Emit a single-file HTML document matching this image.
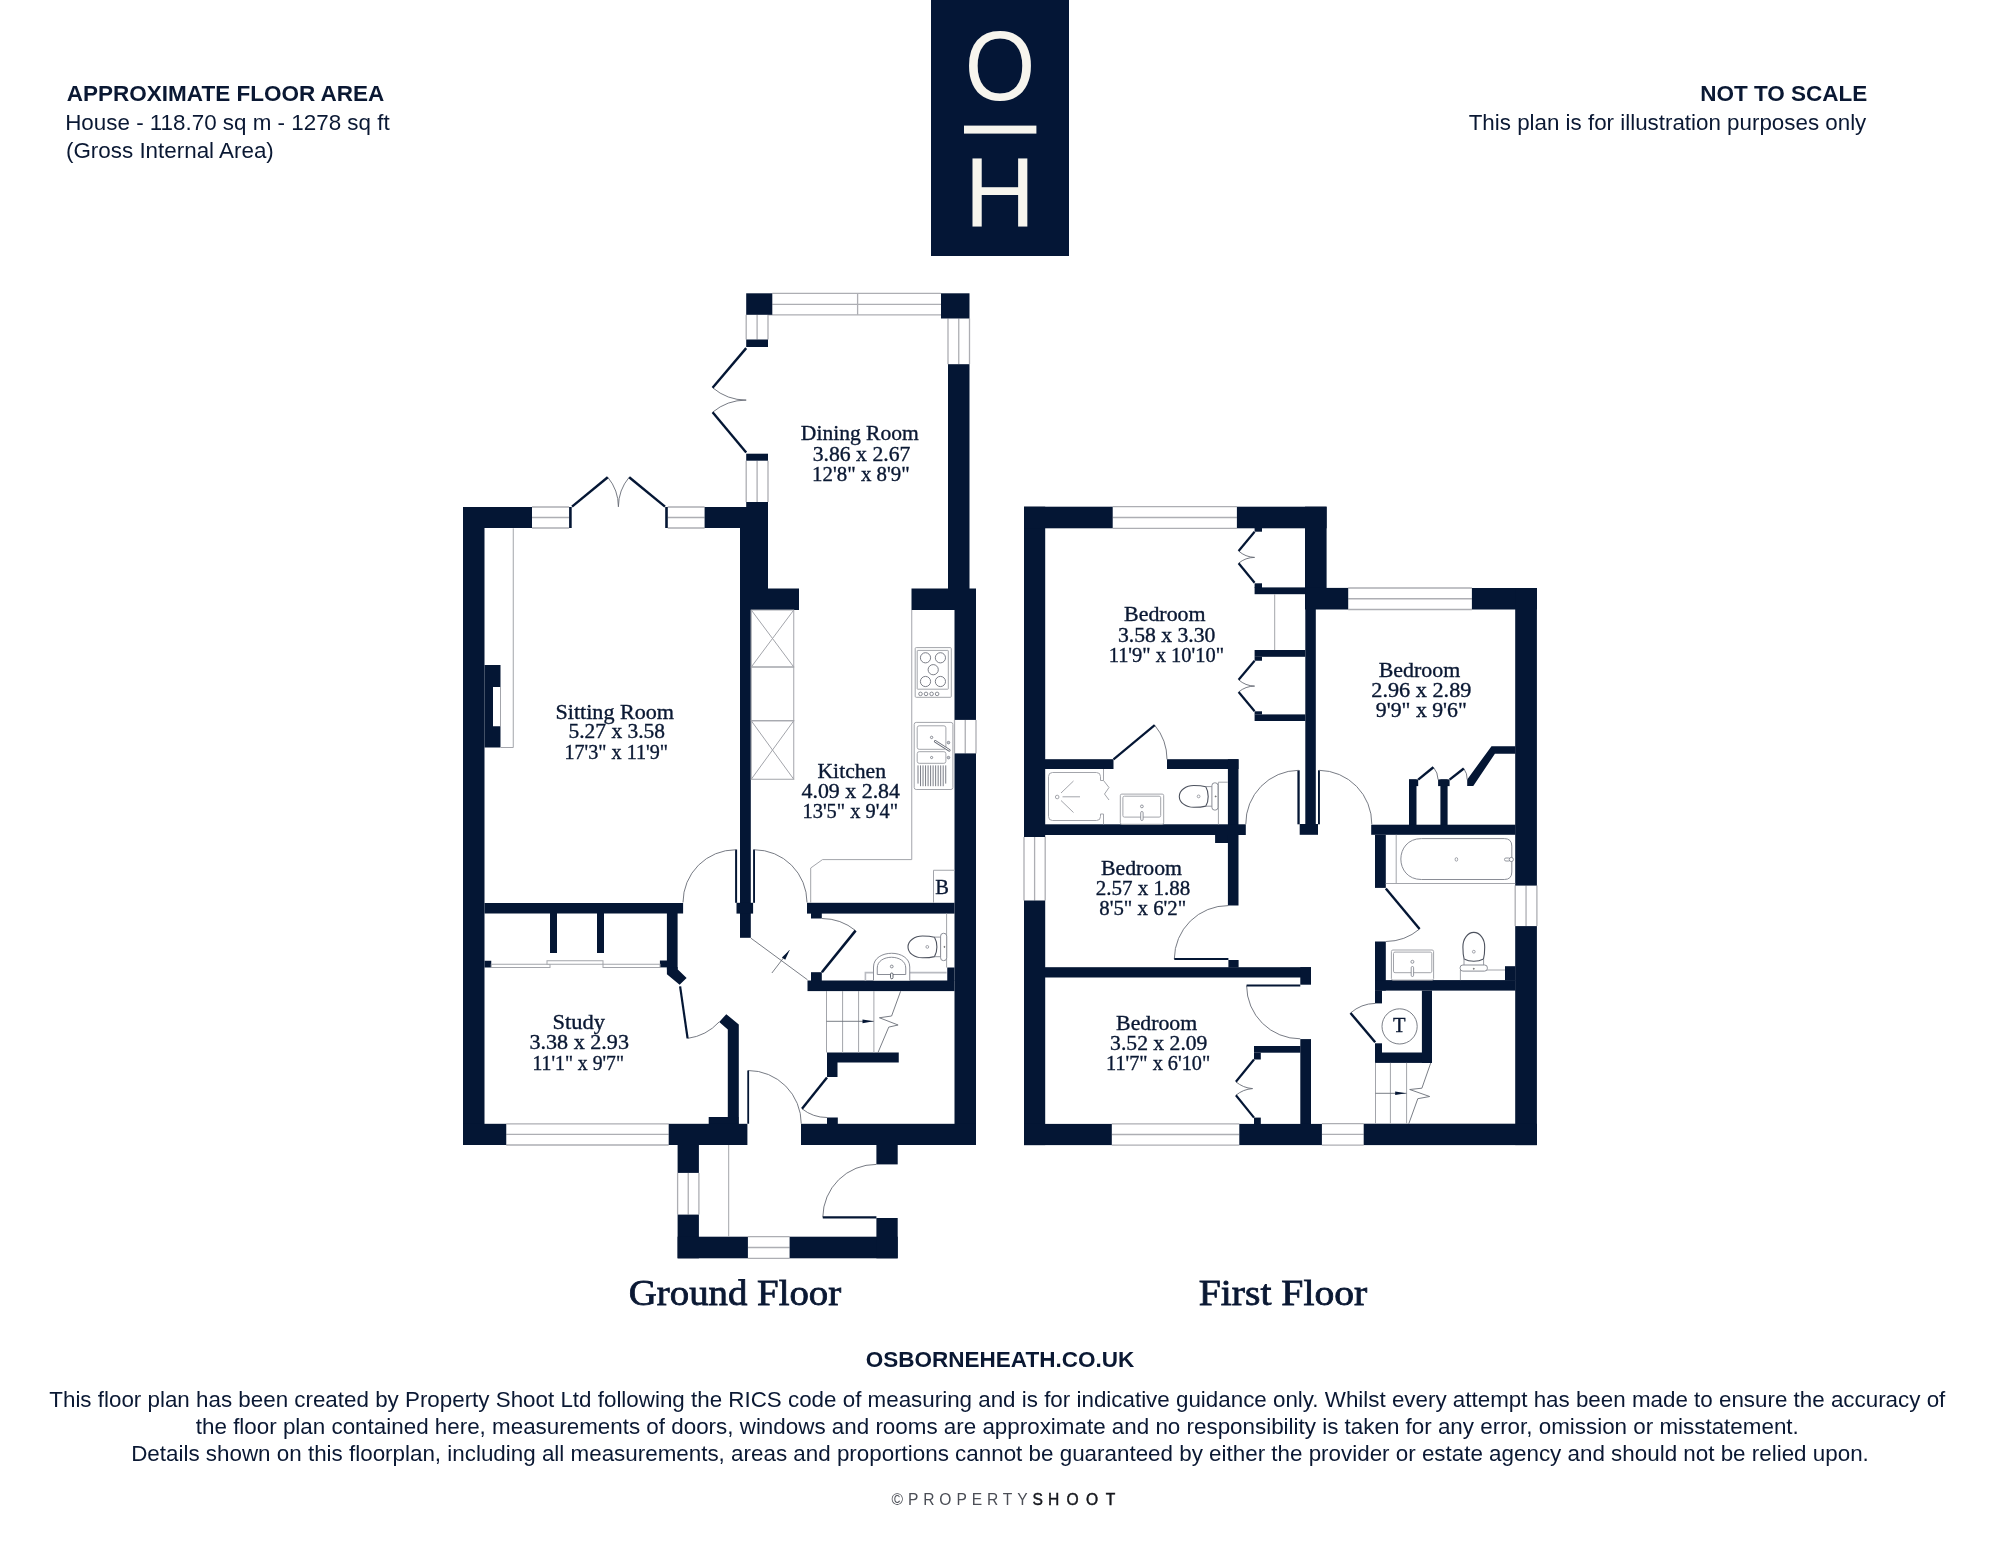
<!DOCTYPE html>
<html lang="en"><head><meta charset="utf-8"><title>Floor plan</title>
<style>
html,body{margin:0;padding:0;background:#fff;}
body{width:2000px;height:1545px;overflow:hidden;}
svg{display:block;will-change:transform;}
text{white-space:pre;}
</style></head><body>
<svg width="2000" height="1545" viewBox="0 0 2000 1545">
<rect width="2000" height="1545" fill="#ffffff"/>
<rect x="931.00" y="0.00" width="138.00" height="256.00" fill="#041636" />
<text x="1000.00" y="100.40" font-family="'Liberation Sans', sans-serif" font-size="98" font-weight="normal" text-anchor="middle" fill="#f7f5ee" transform="translate(1000 0) scale(0.925 1) translate(-1000 0)">O</text>
<rect x="964.00" y="125.60" width="72.40" height="8.00" fill="#f7f5ee" />
<text x="1000.00" y="226.40" font-family="'Liberation Sans', sans-serif" font-size="98" font-weight="normal" text-anchor="middle" fill="#f7f5ee" >H</text>
<text x="66.80" y="101.20" font-family="'Liberation Sans', sans-serif" font-size="22.5" font-weight="bold" text-anchor="start" fill="#0a1833" >APPROXIMATE FLOOR AREA</text>
<text x="65.20" y="129.60" font-family="'Liberation Sans', sans-serif" font-size="22.4" font-weight="normal" text-anchor="start" fill="#0a1833" >House - 118.70 sq m - 1278 sq ft</text>
<text x="66.00" y="158.30" font-family="'Liberation Sans', sans-serif" font-size="22.4" font-weight="normal" text-anchor="start" fill="#0a1833" >(Gross Internal Area)</text>
<text x="1867.30" y="101.20" font-family="'Liberation Sans', sans-serif" font-size="22.5" font-weight="bold" text-anchor="end" fill="#0a1833" >NOT TO SCALE</text>
<text x="1866.30" y="129.60" font-family="'Liberation Sans', sans-serif" font-size="22.4" font-weight="normal" text-anchor="end" fill="#0a1833" textLength="397.6" lengthAdjust="spacingAndGlyphs" >This plan is for illustration purposes only</text>
<text x="1000.00" y="1367.20" font-family="'Liberation Sans', sans-serif" font-size="22.5" font-weight="bold" text-anchor="middle" fill="#0a1833" >OSBORNEHEATH.CO.UK</text>
<text x="997.30" y="1406.50" font-family="'Liberation Sans', sans-serif" font-size="22.4" font-weight="normal" text-anchor="middle" fill="#0a1833" textLength="1896.0" lengthAdjust="spacingAndGlyphs" >This floor plan has been created by Property Shoot Ltd following the RICS code of measuring and is for indicative guidance only. Whilst every attempt has been made to ensure the accuracy of</text>
<text x="997.30" y="1433.50" font-family="'Liberation Sans', sans-serif" font-size="22.4" font-weight="normal" text-anchor="middle" fill="#0a1833" >the floor plan contained here, measurements of doors, windows and rooms are approximate and no responsibility is taken for any error, omission or misstatement.</text>
<text x="1000.00" y="1460.50" font-family="'Liberation Sans', sans-serif" font-size="22.4" font-weight="normal" text-anchor="middle" fill="#0a1833" >Details shown on this floorplan, including all measurements, areas and proportions cannot be guaranteed by either the provider or estate agency and should not be relied upon.</text>
<text x="891.5" y="1505" font-family="'Liberation Sans', sans-serif" font-size="15.6" letter-spacing="4.9" fill="#4a4d55"><tspan>©PROPERTY</tspan><tspan fill="#15171c" stroke="#15171c" stroke-width="0.45">S<tspan letter-spacing="7.4">HOO</tspan>T</tspan></text>
<rect x="772.30" y="293.30" width="168.70" height="21.50" fill="#fff" />
<line x1="772.30" y1="293.30" x2="941.00" y2="293.30" stroke="#adaeb3" stroke-width="1.3" />
<line x1="772.30" y1="304.30" x2="941.00" y2="304.30" stroke="#adaeb3" stroke-width="1.3" />
<line x1="768.00" y1="314.80" x2="948.00" y2="314.80" stroke="#adaeb3" stroke-width="1.3" />
<line x1="857.60" y1="293.30" x2="857.60" y2="314.80" stroke="#adaeb3" stroke-width="1.3" />
<rect x="746.20" y="314.80" width="21.80" height="24.70" fill="#fff" />
<line x1="746.20" y1="314.80" x2="746.20" y2="339.50" stroke="#adaeb3" stroke-width="1.3" />
<line x1="757.10" y1="314.80" x2="757.10" y2="339.50" stroke="#adaeb3" stroke-width="1.3" />
<line x1="768.00" y1="314.80" x2="768.00" y2="339.50" stroke="#adaeb3" stroke-width="1.3" />
<rect x="746.20" y="460.70" width="21.80" height="41.30" fill="#fff" />
<line x1="746.20" y1="460.70" x2="746.20" y2="502.00" stroke="#adaeb3" stroke-width="1.3" />
<line x1="757.10" y1="460.70" x2="757.10" y2="502.00" stroke="#adaeb3" stroke-width="1.3" />
<line x1="768.00" y1="460.70" x2="768.00" y2="502.00" stroke="#adaeb3" stroke-width="1.3" />
<rect x="948.00" y="318.50" width="21.50" height="45.70" fill="#fff" />
<line x1="948.00" y1="318.50" x2="948.00" y2="364.20" stroke="#adaeb3" stroke-width="1.3" />
<line x1="958.75" y1="318.50" x2="958.75" y2="364.20" stroke="#adaeb3" stroke-width="1.3" />
<line x1="969.50" y1="318.50" x2="969.50" y2="364.20" stroke="#adaeb3" stroke-width="1.3" />
<rect x="532.00" y="507.00" width="37.10" height="21.00" fill="#fff" />
<line x1="532.00" y1="507.00" x2="569.10" y2="507.00" stroke="#adaeb3" stroke-width="1.3" />
<line x1="532.00" y1="517.50" x2="569.10" y2="517.50" stroke="#adaeb3" stroke-width="1.3" />
<line x1="532.00" y1="528.00" x2="569.10" y2="528.00" stroke="#adaeb3" stroke-width="1.3" />
<rect x="667.80" y="507.00" width="36.80" height="21.00" fill="#fff" />
<line x1="667.80" y1="507.00" x2="704.60" y2="507.00" stroke="#adaeb3" stroke-width="1.3" />
<line x1="667.80" y1="517.50" x2="704.60" y2="517.50" stroke="#adaeb3" stroke-width="1.3" />
<line x1="667.80" y1="528.00" x2="704.60" y2="528.00" stroke="#adaeb3" stroke-width="1.3" />
<rect x="506.25" y="1123.80" width="162.45" height="21.20" fill="#fff" />
<line x1="506.25" y1="1123.80" x2="668.70" y2="1123.80" stroke="#adaeb3" stroke-width="1.3" />
<line x1="506.25" y1="1134.40" x2="668.70" y2="1134.40" stroke="#adaeb3" stroke-width="1.3" />
<line x1="506.25" y1="1145.00" x2="668.70" y2="1145.00" stroke="#adaeb3" stroke-width="1.3" />
<rect x="954.50" y="719.90" width="21.50" height="33.50" fill="#fff" />
<line x1="954.50" y1="719.90" x2="954.50" y2="753.40" stroke="#adaeb3" stroke-width="1.3" />
<line x1="965.25" y1="719.90" x2="965.25" y2="753.40" stroke="#adaeb3" stroke-width="1.3" />
<line x1="976.00" y1="719.90" x2="976.00" y2="753.40" stroke="#adaeb3" stroke-width="1.3" />
<rect x="677.60" y="1172.90" width="21.30" height="41.70" fill="#fff" />
<line x1="677.60" y1="1172.90" x2="677.60" y2="1214.60" stroke="#adaeb3" stroke-width="1.3" />
<line x1="688.25" y1="1172.90" x2="688.25" y2="1214.60" stroke="#adaeb3" stroke-width="1.3" />
<line x1="698.90" y1="1172.90" x2="698.90" y2="1214.60" stroke="#adaeb3" stroke-width="1.3" />
<rect x="747.90" y="1236.70" width="41.70" height="21.60" fill="#fff" />
<line x1="747.90" y1="1236.70" x2="789.60" y2="1236.70" stroke="#adaeb3" stroke-width="1.3" />
<line x1="747.90" y1="1247.50" x2="789.60" y2="1247.50" stroke="#adaeb3" stroke-width="1.3" />
<line x1="747.90" y1="1258.30" x2="789.60" y2="1258.30" stroke="#adaeb3" stroke-width="1.3" />
<rect x="746.20" y="293.30" width="26.10" height="21.50" fill="#041634" />
<rect x="746.20" y="339.50" width="21.80" height="7.50" fill="#041634" />
<rect x="746.20" y="453.70" width="21.80" height="7.00" fill="#041634" />
<rect x="746.20" y="502.00" width="21.80" height="26.30" fill="#041634" />
<rect x="704.60" y="507.00" width="63.40" height="21.00" fill="#041634" />
<rect x="740.00" y="528.00" width="28.00" height="82.00" fill="#041634" />
<rect x="740.00" y="588.50" width="59.00" height="21.50" fill="#041634" />
<rect x="740.00" y="610.00" width="10.80" height="327.80" fill="#041634" />
<rect x="941.00" y="293.30" width="28.50" height="25.20" fill="#041634" />
<rect x="948.00" y="364.20" width="21.50" height="224.80" fill="#041634" />
<rect x="911.50" y="588.50" width="64.50" height="21.50" fill="#041634" />
<rect x="954.50" y="610.00" width="21.50" height="109.90" fill="#041634" />
<rect x="954.50" y="753.40" width="21.50" height="391.60" fill="#041634" />
<rect x="463.00" y="507.00" width="21.50" height="638.00" fill="#041634" />
<rect x="463.00" y="507.00" width="69.00" height="21.00" fill="#041634" />
<rect x="569.10" y="507.00" width="2.60" height="21.00" fill="#041634" />
<rect x="665.20" y="507.00" width="2.60" height="21.00" fill="#041634" />
<rect x="484.50" y="665.00" width="16.00" height="82.50" fill="#041634" />
<rect x="493.00" y="687.00" width="7.50" height="39.25" fill="#fff" />
<line x1="500.50" y1="687.00" x2="500.50" y2="726.25" stroke="#a3a5ab" stroke-width="1" />
<polyline points="513.25,528.30 513.25,747.50 500.50,747.50" fill="none" stroke="#a3a5ab" stroke-width="1" />
<rect x="484.50" y="903.00" width="198.60" height="10.50" fill="#041634" />
<rect x="550.00" y="913.00" width="7.00" height="40.00" fill="#041634" />
<rect x="597.00" y="913.00" width="7.00" height="40.00" fill="#041634" />
<rect x="666.90" y="913.00" width="10.70" height="56.50" fill="#041634" />
<rect x="659.90" y="960.50" width="7.10" height="6.90" fill="#041634" />
<polygon points="666.90,967.40 666.90,974.30 679.60,984.80 686.60,978.10 677.60,969.20 677.60,967.00" fill="#041634" stroke="none" stroke-width="0"/>
<rect x="484.50" y="960.75" width="6.75" height="6.75" fill="#041634" />
<rect x="491.25" y="964.25" width="58.75" height="3.25" fill="#fff" stroke="#a3a5ab" stroke-width="1"/>
<rect x="547.00" y="960.75" width="56.00" height="3.50" fill="#fff" stroke="#a3a5ab" stroke-width="1"/>
<rect x="603.00" y="964.25" width="57.00" height="3.25" fill="#fff" stroke="#a3a5ab" stroke-width="1"/>
<rect x="736.50" y="902.80" width="16.60" height="10.80" fill="#041634" />
<rect x="735.10" y="849.50" width="2.00" height="53.30" fill="#041634" />
<rect x="753.10" y="849.50" width="1.90" height="53.30" fill="#041634" />
<polygon points="719.20,1021.90 726.30,1014.20 738.80,1024.40 738.80,1124.00 727.80,1124.00 727.80,1029.40" fill="#041634" stroke="none" stroke-width="0"/>
<rect x="708.70" y="1117.00" width="29.80" height="7.00" fill="#041634" />
<rect x="463.00" y="1123.80" width="43.25" height="21.20" fill="#041634" />
<rect x="668.70" y="1123.80" width="78.70" height="21.20" fill="#041634" />
<rect x="801.00" y="1123.80" width="175.00" height="21.20" fill="#041634" />
<rect x="827.00" y="1117.50" width="10.80" height="6.50" fill="#041634" />
<rect x="807.00" y="902.80" width="147.50" height="10.80" fill="#041634" />
<rect x="811.00" y="913.00" width="10.80" height="5.50" fill="#041634" />
<rect x="811.00" y="972.20" width="10.80" height="8.80" fill="#041634" />
<rect x="807.50" y="980.50" width="147.00" height="10.60" fill="#041634" />
<rect x="947.25" y="967.50" width="7.25" height="13.50" fill="#041634" />
<rect x="827.00" y="1052.50" width="71.75" height="10.00" fill="#041634" />
<rect x="827.00" y="1062.00" width="10.50" height="15.00" fill="#041634" />
<rect x="677.60" y="1145.00" width="21.30" height="27.90" fill="#041634" />
<rect x="677.60" y="1214.60" width="21.30" height="43.70" fill="#041634" />
<rect x="677.60" y="1236.70" width="70.30" height="21.60" fill="#041634" />
<rect x="789.60" y="1236.70" width="108.10" height="21.60" fill="#041634" />
<rect x="876.40" y="1218.00" width="21.30" height="40.30" fill="#041634" />
<rect x="876.40" y="1145.00" width="21.30" height="19.40" fill="#041634" />
<line x1="728.70" y1="1145.00" x2="728.70" y2="1236.70" stroke="#a3a5ab" stroke-width="1" />
<path d="M712.60,387.70 A51.97,51.97 0 0 0 746.20,400.10" fill="none" stroke="#686c76" stroke-width="0.9"/>
<line x1="746.20" y1="348.10" x2="712.60" y2="387.70" stroke="#041634" stroke-width="2.4" stroke-linecap="butt"/>
<path d="M712.60,412.20 A52.43,52.43 0 0 1 746.20,400.10" fill="none" stroke="#686c76" stroke-width="0.9"/>
<line x1="746.20" y1="452.50" x2="712.60" y2="412.20" stroke="#041634" stroke-width="2.4" stroke-linecap="butt"/>
<path d="M607.75,477.20 A46.34,46.34 0 0 1 618.40,506.80" fill="none" stroke="#686c76" stroke-width="0.9"/>
<line x1="572.00" y1="506.60" x2="607.75" y2="477.20" stroke="#041634" stroke-width="2.4" stroke-linecap="butt"/>
<path d="M629.20,477.20 A46.46,46.46 0 0 0 618.40,506.80" fill="none" stroke="#686c76" stroke-width="0.9"/>
<line x1="665.00" y1="506.60" x2="629.20" y2="477.20" stroke="#041634" stroke-width="2.4" stroke-linecap="butt"/>
<path d="M735.75,849.75 A52.75,52.75 0 0 0 683.00,902.50" fill="none" stroke="#686c76" stroke-width="0.9"/>
<path d="M754.25,849.75 A52.75,52.75 0 0 1 807.00,902.50" fill="none" stroke="#686c76" stroke-width="0.9"/>
<path d="M855.60,930.60 A53.66,53.66 0 0 0 821.90,918.50" fill="none" stroke="#686c76" stroke-width="0.9"/>
<line x1="821.90" y1="972.25" x2="855.60" y2="930.60" stroke="#041634" stroke-width="2.6" stroke-linecap="butt"/>
<path d="M687.60,1038.40 A52.76,52.76 0 0 0 719.20,1021.90" fill="none" stroke="#686c76" stroke-width="0.9"/>
<line x1="680.10" y1="986.30" x2="687.60" y2="1038.40" stroke="#041634" stroke-width="2.2" stroke-linecap="butt"/>
<path d="M748.20,1070.50 A53.15,53.15 0 0 1 801.25,1123.75" fill="none" stroke="#686c76" stroke-width="0.9"/>
<line x1="748.20" y1="1123.75" x2="748.20" y2="1070.50" stroke="#041634" stroke-width="1.8" stroke-linecap="butt"/>
<path d="M802.00,1108.75 A40.01,40.01 0 0 0 827.00,1117.50" fill="none" stroke="#686c76" stroke-width="0.9"/>
<line x1="827.00" y1="1077.50" x2="802.00" y2="1108.75" stroke="#041634" stroke-width="2.4" stroke-linecap="butt"/>
<path d="M822.80,1217.30 A53.25,53.25 0 0 1 876.40,1164.40" fill="none" stroke="#686c76" stroke-width="0.9"/>
<line x1="876.40" y1="1217.30" x2="822.80" y2="1217.30" stroke="#041634" stroke-width="2.2" stroke-linecap="butt"/>
<polyline points="911.75,610.00 911.75,859.60 822.50,859.60 810.70,868.00 810.70,902.80" fill="none" stroke="#a3a5ab" stroke-width="1" />
<rect x="751.25" y="610.00" width="42.50" height="57.00" fill="none" stroke="#a3a5ab" stroke-width="1"/>
<line x1="751.25" y1="610.00" x2="793.75" y2="667.00" stroke="#a3a5ab" stroke-width="1" />
<line x1="793.75" y1="610.00" x2="751.25" y2="667.00" stroke="#a3a5ab" stroke-width="1" />
<rect x="751.25" y="667.00" width="42.50" height="53.75" fill="none" stroke="#a3a5ab" stroke-width="1"/>
<rect x="751.25" y="720.75" width="42.50" height="58.50" fill="none" stroke="#a3a5ab" stroke-width="1"/>
<line x1="751.25" y1="720.75" x2="793.75" y2="779.25" stroke="#a3a5ab" stroke-width="1" />
<line x1="793.75" y1="720.75" x2="751.25" y2="779.25" stroke="#a3a5ab" stroke-width="1" />
<rect x="915.20" y="647.60" width="36.10" height="49.70" rx="1" fill="none" stroke="#a3a5ab" stroke-width="1"/>
<rect x="917.20" y="650.40" width="31.10" height="38.80" rx="0.5" fill="none" stroke="#a3a5ab" stroke-width="1"/>
<circle cx="925.50" cy="657.80" r="5.10" fill="none" stroke="#6d717b" stroke-width="0.9"/>
<circle cx="940.40" cy="657.80" r="5.10" fill="none" stroke="#6d717b" stroke-width="0.9"/>
<circle cx="933.20" cy="669.70" r="5.10" fill="none" stroke="#6d717b" stroke-width="0.9"/>
<circle cx="925.50" cy="681.50" r="5.10" fill="none" stroke="#6d717b" stroke-width="0.9"/>
<circle cx="940.40" cy="681.50" r="5.10" fill="none" stroke="#6d717b" stroke-width="0.9"/>
<circle cx="920.50" cy="693.90" r="1.80" fill="none" stroke="#6d717b" stroke-width="0.8"/>
<circle cx="926.00" cy="693.90" r="1.80" fill="none" stroke="#6d717b" stroke-width="0.8"/>
<circle cx="931.60" cy="693.90" r="1.80" fill="none" stroke="#6d717b" stroke-width="0.8"/>
<circle cx="937.10" cy="693.90" r="1.80" fill="none" stroke="#6d717b" stroke-width="0.8"/>
<rect x="914.20" y="722.40" width="38.70" height="67.10" rx="2" fill="none" stroke="#a3a5ab" stroke-width="1"/>
<rect x="917.20" y="725.80" width="28.70" height="23.50" rx="2" fill="none" stroke="#a3a5ab" stroke-width="1"/>
<rect x="917.20" y="751.70" width="28.70" height="11.60" rx="2" fill="none" stroke="#a3a5ab" stroke-width="1"/>
<line x1="918.00" y1="765.40" x2="918.00" y2="783.60" stroke="#6d717b" stroke-width="0.9" />
<line x1="920.52" y1="765.40" x2="920.52" y2="786.20" stroke="#6d717b" stroke-width="0.9" />
<line x1="923.04" y1="765.40" x2="923.04" y2="786.20" stroke="#6d717b" stroke-width="0.9" />
<line x1="925.56" y1="765.40" x2="925.56" y2="786.20" stroke="#6d717b" stroke-width="0.9" />
<line x1="928.08" y1="765.40" x2="928.08" y2="786.20" stroke="#6d717b" stroke-width="0.9" />
<line x1="930.60" y1="765.40" x2="930.60" y2="786.20" stroke="#6d717b" stroke-width="0.9" />
<line x1="933.12" y1="765.40" x2="933.12" y2="786.20" stroke="#6d717b" stroke-width="0.9" />
<line x1="935.64" y1="765.40" x2="935.64" y2="786.20" stroke="#6d717b" stroke-width="0.9" />
<line x1="938.16" y1="765.40" x2="938.16" y2="786.20" stroke="#6d717b" stroke-width="0.9" />
<line x1="940.68" y1="765.40" x2="940.68" y2="786.20" stroke="#6d717b" stroke-width="0.9" />
<line x1="943.20" y1="765.40" x2="943.20" y2="786.20" stroke="#6d717b" stroke-width="0.9" />
<line x1="945.72" y1="765.40" x2="945.72" y2="783.60" stroke="#6d717b" stroke-width="0.9" />
<circle cx="931.60" cy="737.40" r="1.20" fill="none" stroke="#6d717b" stroke-width="0.8"/>
<circle cx="931.60" cy="757.50" r="1.10" fill="none" stroke="#6d717b" stroke-width="0.8"/>
<line x1="935.20" y1="741.30" x2="949.30" y2="750.30" stroke="#6d717b" stroke-width="2.6" stroke-linecap="round"/>
<line x1="935.20" y1="741.30" x2="949.30" y2="750.30" stroke="#fff" stroke-width="1.0" stroke-linecap="round"/>
<circle cx="948.50" cy="742.60" r="1.30" fill="#c8cad0" stroke="#7a7e88" stroke-width="0.8"/>
<circle cx="948.50" cy="757.60" r="1.30" fill="#c8cad0" stroke="#7a7e88" stroke-width="0.8"/>
<polyline points="954.50,870.25 933.50,870.25 933.50,902.80" fill="none" stroke="#a3a5ab" stroke-width="1" />
<text x="942.20" y="893.60" font-family="'Liberation Serif', serif" font-size="20.5" font-weight="normal" text-anchor="middle" fill="#0a1833"  stroke="#0a1833" stroke-width="0.35">B</text>
<line x1="946.60" y1="913.60" x2="946.60" y2="967.50" stroke="#a3a5ab" stroke-width="1" />
<polyline points="865.40,980.50 865.40,972.60 946.60,972.60" fill="none" stroke="#b9bbc1" stroke-width="1.6" />
<path d="M873.5,980.5 L873.5,967 C873.5,948.7 909.75,948.7 909.75,967 L909.75,980.5" fill="#fff" stroke="#8a8d96" stroke-width="1"/>
<path d="M877.25,974.5 L877.25,968 C877.25,953.7 905.75,953.7 905.75,968 L905.75,974.5 Z" fill="#fff" stroke="#8a8d96" stroke-width="1"/>
<circle cx="891.75" cy="966.50" r="1.40" fill="none" stroke="#6d717b" stroke-width="0.8"/>
<rect x="890.50" y="973.00" width="2.50" height="5.75" rx="1.2" fill="#fff" stroke="#4d525e" stroke-width="0.9"/>
<g transform="translate(908.00 946.90) rotate(0)">
<path d="M14.5,-10.9 A14.5,10.9 0 0 0 14.5,10.9 C19,10.9 23,10.6 26.5,9.7 C28.3,6.6 28.9,3.2 28.9,0 C28.9,-3.2 28.3,-6.6 26.5,-9.7 C23,-10.6 19,-10.9 14.5,-10.9 Z" fill="#fff" stroke="#4d525e" stroke-width="1.1"/>
<path d="M26.5,-9.8 L32.6,-9.8 M26.5,9.8 L32.6,9.8" fill="none" stroke="#8a8d96" stroke-width="0.9"/>
<rect x="32.60" y="-13.60" width="6.10" height="27.30" rx="2.8" fill="#fff" stroke="#8a8d96" stroke-width="1"/>
<circle cx="19.30" cy="0.00" r="1.40" fill="none" stroke="#8a8d96" stroke-width="0.8"/>
<circle cx="36.40" cy="0.00" r="0.50" fill="none" stroke="#333" stroke-width="0.7"/>
</g>
<line x1="750.80" y1="938.10" x2="807.50" y2="979.80" stroke="#6b6f78" stroke-width="0.9" />
<line x1="771.90" y1="973.00" x2="789.40" y2="950.20" stroke="#6b6f78" stroke-width="0.9" />
<polygon points="789.70,950.00 781.90,957.40 785.20,959.70" fill="#041634" stroke="none" stroke-width="0"/>
<line x1="826.50" y1="991.00" x2="826.50" y2="1052.50" stroke="#a3a5ab" stroke-width="1" />
<line x1="842.60" y1="991.00" x2="842.60" y2="1052.50" stroke="#a3a5ab" stroke-width="1" />
<line x1="858.60" y1="991.00" x2="858.60" y2="1052.50" stroke="#a3a5ab" stroke-width="1" />
<line x1="873.90" y1="991.00" x2="873.90" y2="1052.50" stroke="#a3a5ab" stroke-width="1" />
<line x1="826.50" y1="1021.30" x2="873.90" y2="1021.30" stroke="#6b6f78" stroke-width="0.9" />
<polygon points="873.50,1021.30 862.50,1019.40 862.50,1023.20" fill="#041634" stroke="none" stroke-width="0"/>
<polyline points="900.60,991.25 891.60,1016.00 879.40,1017.75 898.10,1025.00 888.75,1027.10 878.00,1052.50" fill="none" stroke="#6b6f78" stroke-width="0.9" />
<text x="800.89" y="440.20" font-family="'Liberation Serif', serif" font-size="20.5" font-weight="normal" text-anchor="start" fill="#0a1833" textLength="117.9" lengthAdjust="spacingAndGlyphs"  stroke="#0a1833" stroke-width="0.35">Dining Room</text>
<text x="812.70" y="460.50" font-family="'Liberation Serif', serif" font-size="20.5" font-weight="normal" text-anchor="start" fill="#0a1833" textLength="97.7" lengthAdjust="spacingAndGlyphs"  stroke="#0a1833" stroke-width="0.35">3.86 x 2.67</text>
<text x="812.08" y="480.70" font-family="'Liberation Serif', serif" font-size="20.5" font-weight="normal" text-anchor="start" fill="#0a1833" textLength="97.7" lengthAdjust="spacingAndGlyphs"  stroke="#0a1833" stroke-width="0.35">12'8&quot; x 8'9&quot;</text>
<text x="555.50" y="718.80" font-family="'Liberation Serif', serif" font-size="20.5" font-weight="normal" text-anchor="start" fill="#0a1833" textLength="118.5" lengthAdjust="spacingAndGlyphs"  stroke="#0a1833" stroke-width="0.35">Sitting Room</text>
<text x="568.50" y="738.30" font-family="'Liberation Serif', serif" font-size="20.5" font-weight="normal" text-anchor="start" fill="#0a1833" textLength="96.5" lengthAdjust="spacingAndGlyphs"  stroke="#0a1833" stroke-width="0.35">5.27 x 3.58</text>
<text x="564.48" y="758.80" font-family="'Liberation Serif', serif" font-size="20.5" font-weight="normal" text-anchor="start" fill="#0a1833" textLength="103.5" lengthAdjust="spacingAndGlyphs"  stroke="#0a1833" stroke-width="0.35">17'3&quot; x 11'9&quot;</text>
<text x="817.50" y="777.50" font-family="'Liberation Serif', serif" font-size="20.5" font-weight="normal" text-anchor="start" fill="#0a1833" textLength="68.5" lengthAdjust="spacingAndGlyphs"  stroke="#0a1833" stroke-width="0.35">Kitchen</text>
<text x="801.51" y="798.00" font-family="'Liberation Serif', serif" font-size="20.5" font-weight="normal" text-anchor="start" fill="#0a1833" textLength="98.5" lengthAdjust="spacingAndGlyphs"  stroke="#0a1833" stroke-width="0.35">4.09 x 2.84</text>
<text x="802.47" y="817.70" font-family="'Liberation Serif', serif" font-size="20.5" font-weight="normal" text-anchor="start" fill="#0a1833" textLength="95.5" lengthAdjust="spacingAndGlyphs"  stroke="#0a1833" stroke-width="0.35">13'5&quot; x 9'4&quot;</text>
<text x="552.49" y="1028.75" font-family="'Liberation Serif', serif" font-size="20.5" font-weight="normal" text-anchor="start" fill="#0a1833" textLength="52.5" lengthAdjust="spacingAndGlyphs"  stroke="#0a1833" stroke-width="0.35">Study</text>
<text x="529.49" y="1048.75" font-family="'Liberation Serif', serif" font-size="20.5" font-weight="normal" text-anchor="start" fill="#0a1833" textLength="99.5" lengthAdjust="spacingAndGlyphs"  stroke="#0a1833" stroke-width="0.35">3.38 x 2.93</text>
<text x="532.49" y="1069.50" font-family="'Liberation Serif', serif" font-size="20.5" font-weight="normal" text-anchor="start" fill="#0a1833" textLength="91.5" lengthAdjust="spacingAndGlyphs"  stroke="#0a1833" stroke-width="0.35">11'1&quot; x 9'7&quot;</text>
<text x="1124.10" y="621.40" font-family="'Liberation Serif', serif" font-size="20.5" font-weight="normal" text-anchor="start" fill="#0a1833" textLength="81.5" lengthAdjust="spacingAndGlyphs"  stroke="#0a1833" stroke-width="0.35">Bedroom</text>
<text x="1117.90" y="641.60" font-family="'Liberation Serif', serif" font-size="20.5" font-weight="normal" text-anchor="start" fill="#0a1833" textLength="97.5" lengthAdjust="spacingAndGlyphs"  stroke="#0a1833" stroke-width="0.35">3.58 x 3.30</text>
<text x="1108.67" y="662.30" font-family="'Liberation Serif', serif" font-size="20.5" font-weight="normal" text-anchor="start" fill="#0a1833" textLength="115.4" lengthAdjust="spacingAndGlyphs"  stroke="#0a1833" stroke-width="0.35">11'9&quot; x 10'10&quot;</text>
<text x="1378.70" y="676.90" font-family="'Liberation Serif', serif" font-size="20.5" font-weight="normal" text-anchor="start" fill="#0a1833" textLength="81.5" lengthAdjust="spacingAndGlyphs"  stroke="#0a1833" stroke-width="0.35">Bedroom</text>
<text x="1371.29" y="697.10" font-family="'Liberation Serif', serif" font-size="20.5" font-weight="normal" text-anchor="start" fill="#0a1833" textLength="100.1" lengthAdjust="spacingAndGlyphs"  stroke="#0a1833" stroke-width="0.35">2.96 x 2.89</text>
<text x="1375.89" y="717.40" font-family="'Liberation Serif', serif" font-size="20.5" font-weight="normal" text-anchor="start" fill="#0a1833" textLength="90.9" lengthAdjust="spacingAndGlyphs"  stroke="#0a1833" stroke-width="0.35">9'9&quot; x 9'6&quot;</text>
<text x="1101.10" y="875.00" font-family="'Liberation Serif', serif" font-size="20.5" font-weight="normal" text-anchor="start" fill="#0a1833" textLength="80.9" lengthAdjust="spacingAndGlyphs"  stroke="#0a1833" stroke-width="0.35">Bedroom</text>
<text x="1095.70" y="895.40" font-family="'Liberation Serif', serif" font-size="20.5" font-weight="normal" text-anchor="start" fill="#0a1833" textLength="94.7" lengthAdjust="spacingAndGlyphs"  stroke="#0a1833" stroke-width="0.35">2.57 x 1.88</text>
<text x="1099.29" y="915.40" font-family="'Liberation Serif', serif" font-size="20.5" font-weight="normal" text-anchor="start" fill="#0a1833" textLength="86.9" lengthAdjust="spacingAndGlyphs"  stroke="#0a1833" stroke-width="0.35">8'5&quot; x 6'2&quot;</text>
<text x="1116.10" y="1029.70" font-family="'Liberation Serif', serif" font-size="20.5" font-weight="normal" text-anchor="start" fill="#0a1833" textLength="81.1" lengthAdjust="spacingAndGlyphs"  stroke="#0a1833" stroke-width="0.35">Bedroom</text>
<text x="1110.11" y="1050.20" font-family="'Liberation Serif', serif" font-size="20.5" font-weight="normal" text-anchor="start" fill="#0a1833" textLength="97.3" lengthAdjust="spacingAndGlyphs"  stroke="#0a1833" stroke-width="0.35">3.52 x 2.09</text>
<text x="1106.07" y="1070.20" font-family="'Liberation Serif', serif" font-size="20.5" font-weight="normal" text-anchor="start" fill="#0a1833" textLength="104.1" lengthAdjust="spacingAndGlyphs"  stroke="#0a1833" stroke-width="0.35">11'7&quot; x 6'10&quot;</text>
<text x="735.00" y="1305.00" font-family="'Liberation Serif', serif" font-size="36.6" font-weight="normal" text-anchor="middle" fill="#0a1833" textLength="212.4" lengthAdjust="spacingAndGlyphs" stroke="#0a1833" stroke-width="0.8">Ground Floor</text>
<text x="1283.00" y="1305.00" font-family="'Liberation Serif', serif" font-size="36.6" font-weight="normal" text-anchor="middle" fill="#0a1833" textLength="168.4" lengthAdjust="spacingAndGlyphs" stroke="#0a1833" stroke-width="0.8">First Floor</text>
<rect x="1112.70" y="506.70" width="124.20" height="21.60" fill="#fff" />
<line x1="1112.70" y1="506.70" x2="1236.90" y2="506.70" stroke="#adaeb3" stroke-width="1.3" />
<line x1="1112.70" y1="517.50" x2="1236.90" y2="517.50" stroke="#adaeb3" stroke-width="1.3" />
<line x1="1112.70" y1="528.30" x2="1236.90" y2="528.30" stroke="#adaeb3" stroke-width="1.3" />
<rect x="1348.20" y="588.00" width="123.70" height="21.50" fill="#fff" />
<line x1="1348.20" y1="588.00" x2="1471.90" y2="588.00" stroke="#adaeb3" stroke-width="1.3" />
<line x1="1348.20" y1="598.75" x2="1471.90" y2="598.75" stroke="#adaeb3" stroke-width="1.3" />
<line x1="1348.20" y1="609.50" x2="1471.90" y2="609.50" stroke="#adaeb3" stroke-width="1.3" />
<rect x="1024.00" y="837.00" width="21.20" height="63.50" fill="#fff" />
<line x1="1024.00" y1="837.00" x2="1024.00" y2="900.50" stroke="#adaeb3" stroke-width="1.3" />
<line x1="1034.60" y1="837.00" x2="1034.60" y2="900.50" stroke="#adaeb3" stroke-width="1.3" />
<line x1="1045.20" y1="837.00" x2="1045.20" y2="900.50" stroke="#adaeb3" stroke-width="1.3" />
<rect x="1515.20" y="885.60" width="21.70" height="40.50" fill="#fff" />
<line x1="1515.20" y1="885.60" x2="1515.20" y2="926.10" stroke="#adaeb3" stroke-width="1.3" />
<line x1="1526.05" y1="885.60" x2="1526.05" y2="926.10" stroke="#adaeb3" stroke-width="1.3" />
<line x1="1536.90" y1="885.60" x2="1536.90" y2="926.10" stroke="#adaeb3" stroke-width="1.3" />
<rect x="1111.80" y="1123.90" width="127.50" height="21.20" fill="#fff" />
<line x1="1111.80" y1="1123.90" x2="1239.30" y2="1123.90" stroke="#adaeb3" stroke-width="1.3" />
<line x1="1111.80" y1="1134.50" x2="1239.30" y2="1134.50" stroke="#adaeb3" stroke-width="1.3" />
<line x1="1111.80" y1="1145.10" x2="1239.30" y2="1145.10" stroke="#adaeb3" stroke-width="1.3" />
<rect x="1321.90" y="1123.70" width="41.80" height="21.40" fill="#fff" />
<line x1="1321.90" y1="1123.70" x2="1363.70" y2="1123.70" stroke="#adaeb3" stroke-width="1.3" />
<line x1="1321.90" y1="1134.40" x2="1363.70" y2="1134.40" stroke="#adaeb3" stroke-width="1.3" />
<line x1="1321.90" y1="1145.10" x2="1363.70" y2="1145.10" stroke="#adaeb3" stroke-width="1.3" />
<rect x="1024.00" y="506.70" width="21.20" height="330.30" fill="#041634" />
<rect x="1024.00" y="900.50" width="21.20" height="244.60" fill="#041634" />
<rect x="1024.00" y="506.70" width="88.70" height="21.60" fill="#041634" />
<rect x="1236.90" y="506.70" width="89.70" height="21.60" fill="#041634" />
<rect x="1305.00" y="506.70" width="21.60" height="101.60" fill="#041634" />
<rect x="1305.00" y="587.90" width="43.20" height="21.60" fill="#041634" />
<rect x="1305.30" y="608.00" width="10.50" height="216.30" fill="#041634" />
<rect x="1299.70" y="824.00" width="18.30" height="10.80" fill="#041634" />
<rect x="1297.40" y="770.30" width="2.30" height="54.00" fill="#041634" />
<rect x="1318.00" y="770.30" width="1.90" height="54.00" fill="#041634" />
<rect x="1471.90" y="588.00" width="65.00" height="21.50" fill="#041634" />
<rect x="1515.20" y="588.00" width="21.70" height="297.60" fill="#041634" />
<rect x="1515.20" y="926.10" width="21.70" height="219.00" fill="#041634" />
<rect x="1254.60" y="528.00" width="7.40" height="3.70" fill="#041634" />
<rect x="1254.60" y="583.30" width="7.40" height="4.70" fill="#041634" />
<rect x="1254.60" y="587.40" width="50.70" height="6.80" fill="#041634" />
<line x1="1274.70" y1="594.20" x2="1274.70" y2="650.00" stroke="#a3a5ab" stroke-width="1" />
<rect x="1254.60" y="650.00" width="50.70" height="6.80" fill="#041634" />
<rect x="1254.60" y="656.80" width="7.40" height="3.95" fill="#041634" />
<rect x="1254.60" y="711.30" width="7.40" height="3.20" fill="#041634" />
<rect x="1254.60" y="714.40" width="50.70" height="6.60" fill="#041634" />
<rect x="1045.00" y="759.20" width="68.50" height="9.80" fill="#041634" />
<rect x="1167.00" y="759.20" width="71.50" height="9.80" fill="#041634" />
<rect x="1227.90" y="759.20" width="10.60" height="75.80" fill="#041634" />
<rect x="1045.00" y="824.30" width="200.80" height="10.70" fill="#041634" />
<rect x="1215.10" y="835.00" width="12.90" height="8.00" fill="#041634" />
<rect x="1227.90" y="835.00" width="10.60" height="70.50" fill="#041634" />
<rect x="1228.40" y="960.00" width="10.20" height="7.50" fill="#041634" />
<rect x="1045.00" y="967.20" width="266.00" height="10.30" fill="#041634" />
<rect x="1300.30" y="967.20" width="10.70" height="17.50" fill="#041634" />
<rect x="1300.30" y="1039.10" width="10.70" height="84.90" fill="#041634" />
<rect x="1254.00" y="1046.00" width="46.50" height="6.70" fill="#041634" />
<rect x="1254.00" y="1052.70" width="6.80" height="6.80" fill="#041634" />
<rect x="1254.00" y="1117.60" width="6.80" height="6.40" fill="#041634" />
<rect x="1024.00" y="1123.90" width="87.80" height="21.20" fill="#041634" />
<rect x="1239.30" y="1123.90" width="82.60" height="21.20" fill="#041634" />
<rect x="1363.70" y="1123.70" width="173.20" height="21.40" fill="#041634" />
<rect x="1409.00" y="779.40" width="7.50" height="45.60" fill="#041634" />
<rect x="1409.00" y="779.40" width="9.20" height="6.70" fill="#041634" />
<rect x="1440.40" y="779.40" width="7.20" height="45.60" fill="#041634" />
<rect x="1438.10" y="779.40" width="11.50" height="6.70" fill="#041634" />
<polygon points="1515.50,746.20 1491.50,746.20 1467.20,779.40 1467.20,786.10 1473.30,786.10 1494.90,753.70 1515.50,753.70" fill="#041634" stroke="none" stroke-width="0"/>
<rect x="1371.20" y="824.70" width="144.30" height="10.10" fill="#041634" />
<rect x="1375.00" y="834.80" width="10.80" height="53.10" fill="#041634" />
<rect x="1375.00" y="941.50" width="10.80" height="49.10" fill="#041634" />
<rect x="1375.00" y="980.10" width="140.50" height="10.50" fill="#041634" />
<rect x="1505.00" y="966.20" width="10.50" height="14.30" fill="#041634" />
<rect x="1375.00" y="990.60" width="7.00" height="12.80" fill="#041634" />
<rect x="1375.00" y="1043.30" width="7.00" height="9.70" fill="#041634" />
<rect x="1375.00" y="1052.50" width="57.00" height="10.40" fill="#041634" />
<rect x="1421.90" y="990.60" width="10.10" height="72.30" fill="#041634" />
<path d="M1238.60,551.00 A25.38,25.38 0 0 0 1254.60,557.40" fill="none" stroke="#686c76" stroke-width="0.9"/>
<line x1="1254.60" y1="531.70" x2="1238.60" y2="551.00" stroke="#041634" stroke-width="2.2" stroke-linecap="butt"/>
<path d="M1238.60,563.20 A25.35,25.35 0 0 1 1254.60,557.40" fill="none" stroke="#686c76" stroke-width="0.9"/>
<line x1="1254.60" y1="582.80" x2="1238.60" y2="563.20" stroke="#041634" stroke-width="2.2" stroke-linecap="butt"/>
<path d="M1238.60,679.80 A25.11,25.11 0 0 0 1254.60,686.10" fill="none" stroke="#686c76" stroke-width="0.9"/>
<line x1="1254.60" y1="660.75" x2="1238.60" y2="679.80" stroke="#041634" stroke-width="2.2" stroke-linecap="butt"/>
<path d="M1238.60,692.00 A25.13,25.13 0 0 1 1254.60,686.10" fill="none" stroke="#686c76" stroke-width="0.9"/>
<line x1="1254.60" y1="711.30" x2="1238.60" y2="692.00" stroke="#041634" stroke-width="2.2" stroke-linecap="butt"/>
<path d="M1154.70,725.20 A53.52,53.52 0 0 1 1167.00,759.40" fill="none" stroke="#686c76" stroke-width="0.9"/>
<line x1="1113.50" y1="759.40" x2="1154.70" y2="725.20" stroke="#041634" stroke-width="2.2" stroke-linecap="butt"/>
<path d="M1298.60,770.30 A53.40,53.40 0 0 0 1245.80,824.30" fill="none" stroke="#686c76" stroke-width="0.9"/>
<path d="M1319.00,770.30 A53.40,53.40 0 0 1 1371.80,824.30" fill="none" stroke="#686c76" stroke-width="0.9"/>
<path d="M1174.30,959.00 A53.75,53.75 0 0 1 1228.40,905.60" fill="none" stroke="#686c76" stroke-width="0.9"/>
<line x1="1228.40" y1="959.00" x2="1174.30" y2="959.00" stroke="#041634" stroke-width="2.0" stroke-linecap="butt"/>
<path d="M1246.60,985.60 A53.45,53.45 0 0 0 1300.30,1038.80" fill="none" stroke="#686c76" stroke-width="0.9"/>
<line x1="1300.30" y1="985.60" x2="1246.60" y2="985.60" stroke="#041634" stroke-width="2.0" stroke-linecap="butt"/>
<path d="M1235.90,1081.80 A28.93,28.93 0 0 0 1252.60,1088.60" fill="none" stroke="#686c76" stroke-width="0.9"/>
<line x1="1254.00" y1="1059.50" x2="1235.90" y2="1081.80" stroke="#041634" stroke-width="2.2" stroke-linecap="butt"/>
<path d="M1235.90,1095.30 A28.88,28.88 0 0 1 1252.60,1088.60" fill="none" stroke="#686c76" stroke-width="0.9"/>
<line x1="1254.00" y1="1117.60" x2="1235.90" y2="1095.30" stroke="#041634" stroke-width="2.2" stroke-linecap="butt"/>
<path d="M1419.60,929.00 A52.96,52.96 0 0 1 1385.80,941.50" fill="none" stroke="#686c76" stroke-width="0.9"/>
<line x1="1385.80" y1="888.40" x2="1419.60" y2="929.00" stroke="#041634" stroke-width="2.4" stroke-linecap="butt"/>
<path d="M1350.50,1013.00 A38.61,38.61 0 0 1 1375.20,1003.40" fill="none" stroke="#686c76" stroke-width="0.9"/>
<line x1="1375.20" y1="1042.30" x2="1350.50" y2="1013.00" stroke="#041634" stroke-width="2.4" stroke-linecap="butt"/>
<path d="M1433.40,767.20 A19.76,19.76 0 0 1 1438.10,779.60" fill="none" stroke="#686c76" stroke-width="0.9"/>
<line x1="1418.20" y1="779.60" x2="1433.40" y2="767.20" stroke="#041634" stroke-width="2.4" stroke-linecap="butt"/>
<path d="M1463.80,768.50 A17.81,17.81 0 0 1 1467.20,779.60" fill="none" stroke="#686c76" stroke-width="0.9"/>
<line x1="1449.60" y1="779.60" x2="1463.80" y2="768.50" stroke="#041634" stroke-width="2.4" stroke-linecap="butt"/>
<path d="M1103.5,769 L1103.5,780.5 L1109,787.5 L1104.5,794 L1109,800 M1103.5,814 L1103.5,824.3" fill="none" stroke="#a3a5ab" stroke-width="1"/>
<path d="M1103.5,780.5 L1100.5,780.5 L1100.5,776.5 Q1100.5,772.5 1096.5,772.5 L1052.5,772.5 Q1048.5,772.5 1048.5,776.5 L1048.5,816.5 Q1048.5,820.5 1052.5,820.5 L1096.5,820.5 Q1100.5,820.5 1100.5,816.5 L1100.5,814 L1103.5,814" fill="none" stroke="#a3a5ab" stroke-width="1"/>
<circle cx="1057.20" cy="797.00" r="1.80" fill="none" stroke="#a3a5ab" stroke-width="1"/>
<line x1="1061.00" y1="793.00" x2="1073.50" y2="781.00" stroke="#a3a5ab" stroke-width="1" />
<line x1="1061.00" y1="800.50" x2="1073.50" y2="812.50" stroke="#a3a5ab" stroke-width="1" />
<line x1="1062.50" y1="796.80" x2="1080.00" y2="796.80" stroke="#a3a5ab" stroke-width="1" />
<rect x="1120.30" y="794.10" width="43.40" height="30.20" rx="1.5" fill="none" stroke="#a3a5ab" stroke-width="1"/>
<rect x="1122.90" y="796.20" width="37.80" height="20.90" rx="1.5" fill="none" stroke="#a3a5ab" stroke-width="1"/>
<circle cx="1141.90" cy="806.40" r="1.40" fill="none" stroke="#7a7e88" stroke-width="0.8"/>
<rect x="1140.70" y="811.50" width="2.40" height="9.00" rx="1.2" fill="#fff" stroke="#7a7e88" stroke-width="0.8"/>
<polyline points="1227.90,782.20 1218.40,782.20 1218.40,824.30" fill="none" stroke="#a3a5ab" stroke-width="1" />
<g transform="translate(1179.30 796.40) rotate(0)">
<path d="M14.5,-10.9 A14.5,10.9 0 0 0 14.5,10.9 C19,10.9 23,10.6 26.5,9.7 C28.3,6.6 28.9,3.2 28.9,0 C28.9,-3.2 28.3,-6.6 26.5,-9.7 C23,-10.6 19,-10.9 14.5,-10.9 Z" fill="#fff" stroke="#4d525e" stroke-width="1.1"/>
<path d="M26.5,-9.8 L32.6,-9.8 M26.5,9.8 L32.6,9.8" fill="none" stroke="#8a8d96" stroke-width="0.9"/>
<rect x="32.60" y="-13.60" width="6.10" height="27.30" rx="2.8" fill="#fff" stroke="#8a8d96" stroke-width="1"/>
<circle cx="19.30" cy="0.00" r="1.40" fill="none" stroke="#8a8d96" stroke-width="0.8"/>
<circle cx="36.40" cy="0.00" r="0.50" fill="none" stroke="#333" stroke-width="0.7"/>
</g>
<line x1="1396.20" y1="834.80" x2="1396.20" y2="883.50" stroke="#a3a5ab" stroke-width="1" />
<line x1="1385.80" y1="883.50" x2="1515.20" y2="883.50" stroke="#a3a5ab" stroke-width="1" />
<path d="M1421.4,838.6 L1504.3,838.6 Q1511.8,838.6 1511.8,846.1 L1511.8,872 Q1511.8,879.5 1504.3,879.5 L1421.4,879.5 C1394,879.5 1394,838.6 1421.4,838.6 Z" fill="none" stroke="#8a8d96" stroke-width="1"/>
<ellipse cx="1456.40" cy="859.40" rx="1.30" ry="1.80" fill="none" stroke="#8a8d96" stroke-width="0.8"/>
<rect x="1504.50" y="858.00" width="5.50" height="3.00" rx="1.4" fill="#fff" stroke="#7a7e88" stroke-width="0.8"/>
<circle cx="1511.30" cy="859.50" r="2.10" fill="#fff" stroke="#7a7e88" stroke-width="0.8"/>
<rect x="1391.40" y="950.00" width="42.20" height="30.10" rx="1.5" fill="none" stroke="#a3a5ab" stroke-width="1"/>
<rect x="1393.50" y="952.10" width="38.30" height="20.60" rx="1.5" fill="none" stroke="#a3a5ab" stroke-width="1"/>
<circle cx="1412.40" cy="961.80" r="1.50" fill="none" stroke="#7a7e88" stroke-width="0.8"/>
<rect x="1411.20" y="966.50" width="2.40" height="10.00" rx="1.2" fill="#fff" stroke="#7a7e88" stroke-width="0.8"/>
<polyline points="1460.40,980.10 1460.40,970.00 1505.00,970.00" fill="none" stroke="#a3a5ab" stroke-width="1" />
<g transform="translate(1473.80 932.40) rotate(90)">
<path d="M14.5,-10.9 A14.5,10.9 0 0 0 14.5,10.9 C19,10.9 23,10.6 26.5,9.7 C28.3,6.6 28.9,3.2 28.9,0 C28.9,-3.2 28.3,-6.6 26.5,-9.7 C23,-10.6 19,-10.9 14.5,-10.9 Z" fill="#fff" stroke="#4d525e" stroke-width="1.1"/>
<path d="M26.5,-9.8 L32.6,-9.8 M26.5,9.8 L32.6,9.8" fill="none" stroke="#8a8d96" stroke-width="0.9"/>
<rect x="32.60" y="-13.60" width="6.10" height="27.30" rx="2.8" fill="#fff" stroke="#8a8d96" stroke-width="1"/>
<circle cx="19.30" cy="0.00" r="1.40" fill="none" stroke="#8a8d96" stroke-width="0.8"/>
<circle cx="36.40" cy="0.00" r="0.50" fill="none" stroke="#333" stroke-width="0.7"/>
</g>
<circle cx="1399.60" cy="1026.40" r="17.60" fill="none" stroke="#6b6f78" stroke-width="0.9"/>
<text x="1399.30" y="1031.60" font-family="'Liberation Serif', serif" font-size="20.5" font-weight="normal" text-anchor="middle" fill="#0a1833"  stroke="#0a1833" stroke-width="0.35">T</text>
<line x1="1375.50" y1="1062.90" x2="1375.50" y2="1123.70" stroke="#a3a5ab" stroke-width="1" />
<line x1="1390.40" y1="1062.90" x2="1390.40" y2="1123.70" stroke="#a3a5ab" stroke-width="1" />
<line x1="1406.60" y1="1062.90" x2="1406.60" y2="1123.70" stroke="#a3a5ab" stroke-width="1" />
<line x1="1375.50" y1="1093.30" x2="1406.60" y2="1093.30" stroke="#6b6f78" stroke-width="0.9" />
<polygon points="1406.00,1093.30 1395.20,1091.50 1395.20,1095.10" fill="#041634" stroke="none" stroke-width="0"/>
<polyline points="1430.70,1063.10 1421.90,1088.20 1409.70,1089.50 1429.70,1096.50 1417.80,1098.70 1408.80,1123.70" fill="none" stroke="#6b6f78" stroke-width="0.9" />
</svg>
</body></html>
